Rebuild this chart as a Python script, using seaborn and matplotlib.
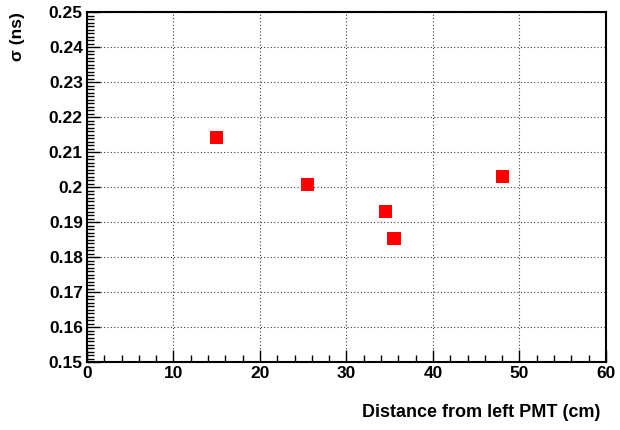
import matplotlib
matplotlib.use("Agg")
import matplotlib.pyplot as plt
from matplotlib.ticker import MultipleLocator
import seaborn as sns
import pandas as pd

# Data
distance = [15.0, 25.5, 34.5, 35.5, 48.0]
sigma = [0.2142, 0.2008, 0.1931, 0.1853, 0.2030]

df = pd.DataFrame({"distance": distance, "sigma": sigma})

sns.set_style("white")
plt.rcParams['font.family'] = ['Liberation Sans', 'DejaVu Sans']
plt.rcParams['font.weight'] = 'bold'
plt.rcParams['text.color'] = 'black'
plt.rcParams['axes.labelcolor'] = 'black'
plt.rcParams['xtick.color'] = 'black'
plt.rcParams['ytick.color'] = 'black'

fig = plt.figure(figsize=(6.2, 4.3), dpi=100)
ax = fig.add_axes([0.1403, 0.1574, 0.8371, 0.8147])

sns.scatterplot(data=df, x="distance", y="sigma", marker="s", s=90,
                color="#ff0000", edgecolor="none", ax=ax, zorder=3)

ax.set_xlim(0, 60)
ax.set_ylim(0.15, 0.25)
ax.xaxis.set_major_locator(MultipleLocator(10))
ax.xaxis.set_minor_locator(MultipleLocator(2))
ax.yaxis.set_major_locator(MultipleLocator(0.01))
ax.yaxis.set_minor_locator(MultipleLocator(0.001))
ax.set_yticklabels([f"{v:g}" for v in ax.get_yticks()])

ax.grid(True, which="major", color="0.25", linestyle=(0, (1, 2)), linewidth=0.8)
ax.tick_params(axis="both", which="major", direction="in", length=9, width=1,
               labelsize=12.5, pad=3, bottom=True, left=True, top=False, right=False)
ax.tick_params(axis="both", which="minor", direction="in", length=5, width=1,
               bottom=True, left=True, top=False, right=False)
for lab in ax.get_xticklabels() + ax.get_yticklabels():
    lab.set_fontweight("bold")

for side in ax.spines.values():
    side.set_color("black")
    side.set_linewidth(1.5)

ax.set_xlabel("Distance from left PMT (cm)", fontsize=13, fontweight="bold",
              ha="right", va="center")
ax.xaxis.set_label_coords(0.99, -0.143)
ax.set_ylabel("σ (ns)", fontsize=12.5, fontweight="bold", ha="right", va="center")
ax.yaxis.set_label_coords(-0.133, 1.0)

fig.savefig("out.png", dpi=100)
